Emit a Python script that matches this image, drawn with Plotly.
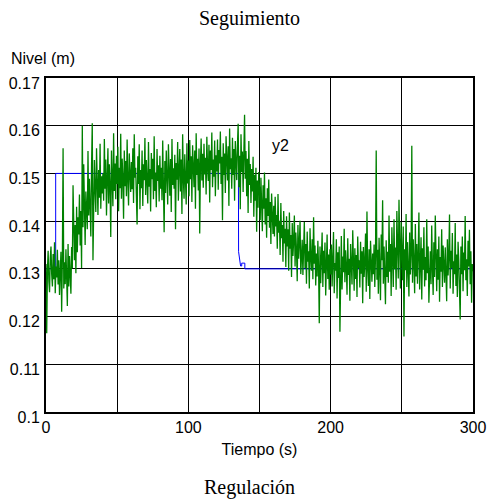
import numpy as np
import plotly.graph_objects as go

# ---------------- data ----------------
title_top = "Seguimiento"
title_bottom = "Regulación"
y_label = "Nivel (m)"
x_label = "Tiempo (s)"
trace_label = "y2"

x_tick_vals = [0, 50, 100, 150, 200, 250, 300]
x_tick_text = ["0", "", "100", "", "200", "", "300"]
y_tick_vals = [0.10, 0.11, 0.12, 0.13, 0.14, 0.15, 0.16, 0.17]
y_tick_text = ["0.1", "0.11", "0.12", "0.13", "0.14", "0.15", "0.16", "0.17"]

# blue reference / model response (s, m)
blue_t = [0, 6.8, 6.8, 135.2, 135.3, 135.9, 136.7, 137.5, 137.5, 139.7, 139.7, 300]
blue_y = [0.130, 0.130, 0.150, 0.150, 0.1336, 0.1318, 0.1306, 0.1306, 0.1312, 0.1312, 0.1300, 0.1300]

# green measured level, sampled every 0.5 s from 0 to 300 s, in units of 0.1 mm
green_dt = 0.5
green_level_01mm = [
    1310, 1165, 1296, 1338, 1274, 1251, 1322, 1347, 1289, 1263, 1331, 1278, 1356, 1249, 1305, 1282, 1340, 1267, 1318, 1245,
    1292, 1336, 1210, 1321, 1553, 1259, 1314, 1268, 1341, 1276, 1222, 1352, 1263, 1327, 1285, 1248, 1346, 1301, 1475, 1335,
    1318, 1392, 1291, 1430, 1335, 1408, 1372, 1456, 1349, 1421, 1302, 1600, 1387, 1519, 1398, 1350, 1462, 1417, 1383, 1547,
    1412, 1489, 1437, 1368, 1515, 1605, 1318, 1398, 1528, 1466, 1419, 1553, 1481, 1413, 1507, 1449, 1562, 1426, 1494, 1458,
    1501, 1443, 1572, 1468, 1529, 1412, 1486, 1553, 1437, 1519, 1475, 1367, 1548, 1492, 1431, 1584, 1463, 1521, 1446, 1537,
    1478, 1556, 1421, 1512, 1469, 1583, 1447, 1531, 1490, 1405, 1548, 1473, 1526, 1452, 1571, 1486, 1433, 1542, 1499, 1461,
    1524, 1467, 1553, 1438, 1582, 1491, 1512, 1449, 1393, 1536, 1478, 1561, 1425, 1507, 1469, 1548, 1432, 1519, 1486, 1574,
    1455, 1528, 1491, 1437, 1566, 1472, 1509, 1420, 1543, 1488, 1531, 1446, 1578, 1463, 1502, 1429, 1551, 1484, 1517, 1441,
    1537, 1468, 1512, 1444, 1569, 1493, 1377, 1526, 1459, 1548, 1482, 1435, 1561, 1497, 1453, 1530, 1419, 1572, 1476, 1511,
    1468, 1539, 1383, 1522, 1487, 1566, 1443, 1508, 1551, 1462, 1529, 1415, 1582, 1491, 1447, 1540, 1503, 1435, 1563, 1479,
    1527, 1452, 1570, 1488, 1536, 1440, 1559, 1503, 1471, 1548, 1426, 1584, 1497, 1531, 1464, 1552, 1374, 1519, 1573, 1485,
    1541, 1470, 1562, 1498, 1533, 1456, 1577, 1512, 1484, 1560, 1439, 1548, 1507, 1586, 1471, 1529, 1493, 1569, 1452, 1538,
    1504, 1571, 1466, 1549, 1521, 1588, 1478, 1535, 1402, 1563, 1497, 1542, 1459, 1578, 1516, 1485, 1557, 1432, 1594, 1509,
    1532, 1468, 1575, 1497, 1551, 1443, 1568, 1512, 1486, 1559, 1604, 1471, 1537, 1425, 1582, 1503, 1546, 1461, 1528, 1623,
    1489, 1547, 1452, 1531, 1417, 1568, 1476, 1520, 1438, 1509, 1462, 1535, 1409, 1497, 1443, 1512, 1378, 1485, 1428, 1503,
    1468, 1402, 1491, 1437, 1379, 1475, 1426, 1502, 1393, 1448, 1365, 1469, 1411, 1487, 1386, 1440, 1352, 1458, 1404, 1373,
    1432, 1368, 1451, 1389, 1413, 1342, 1457, 1376, 1401, 1329, 1438, 1364, 1392, 1315, 1421, 1353, 1384, 1304, 1410, 1347,
    1383, 1296, 1418, 1342, 1371, 1283, 1396, 1327, 1359, 1412, 1305, 1376, 1338, 1274, 1392, 1321, 1355, 1401, 1289, 1347,
    1361, 1287, 1343, 1398, 1302, 1352, 1269, 1378, 1315, 1337, 1259, 1385, 1323, 1296, 1362, 1278, 1408, 1311, 1349, 1265,
    1332, 1284, 1359, 1303, 1186, 1347, 1270, 1321, 1376, 1262, 1338, 1291, 1355, 1244, 1317, 1372, 1279, 1330, 1256, 1341,
    1288, 1351, 1263, 1324, 1377, 1249, 1312, 1296, 1362, 1238, 1335, 1281, 1347, 1168, 1309, 1369, 1257, 1326, 1293, 1384,
    1272, 1339, 1305, 1246, 1364, 1287, 1321, 1233, 1352, 1298, 1267, 1381, 1315, 1254, 1343, 1279, 1329, 1241, 1368, 1302,
    1318, 1261, 1357, 1290, 1337, 1228, 1346, 1283, 1315, 1374, 1252, 1420, 1299, 1264, 1341, 1237, 1359, 1306, 1273, 1332,
    1289, 1351, 1262, 1326, 1548, 1277, 1340, 1248, 1365, 1301, 1234, 1372, 1318, 1444, 1269, 1347, 1295, 1226, 1360, 1283,
    1336, 1271, 1412, 1294, 1352, 1243, 1387, 1318, 1262, 1404, 1299, 1345, 1256, 1421, 1310, 1280, 1445, 1327, 1259, 1398,
    1323, 1276, 1389, 1158, 1341, 1297, 1415, 1262, 1356, 1305, 1242, 1376, 1288, 1330, 1558, 1271, 1362, 1315, 1249, 1394,
    1284, 1352, 1269, 1331, 1418, 1257, 1310, 1366, 1236, 1343, 1298, 1387, 1263, 1325, 1276, 1404, 1291, 1347, 1229, 1318,
    1337, 1268, 1391, 1302, 1245, 1356, 1283, 1412, 1319, 1253, 1341, 1277, 1368, 1231, 1325, 1294, 1383, 1262, 1349, 1306,
    1271, 1345, 1298, 1232, 1362, 1286, 1327, 1414, 1259, 1338, 1302, 1375, 1248, 1316, 1289, 1396, 1264, 1330, 1241, 1357,
    1318, 1262, 1194, 1347, 1289, 1368, 1253, 1334, 1297, 1411, 1276, 1320, 1243, 1359, 1305, 1382, 1268, 1337, 1229, 1310,
    1295,
]

label_pos = (165.0, 0.1559)

# ---------------- figure ----------------
green_y = np.array(green_level_01mm) / 10000.0
green_t = np.arange(len(green_y)) * green_dt

SANS = "Liberation Sans, Arial, sans-serif"
SERIF = "Liberation Serif, Times New Roman, serif"

fig = go.Figure()
fig.add_trace(go.Scatter(x=blue_t, y=blue_y, mode="lines",
                         line=dict(color="#0000ff", width=1), showlegend=False, hoverinfo="skip"))
fig.add_trace(go.Scatter(x=green_t, y=green_y, mode="lines",
                         line=dict(color="#008000", width=1.3), showlegend=False, hoverinfo="skip"))

axis_common = dict(showgrid=True, gridcolor="#000000", gridwidth=1,
                   showline=True, linecolor="#000000", linewidth=2, mirror=True,
                   ticks="", zeroline=False, automargin=False,
                   tickfont=dict(family=SANS, size=16, color="#000000"))

fig.update_xaxes(range=[0, 300], tickmode="array", tickvals=x_tick_vals, ticktext=x_tick_text,
                 title=dict(text=x_label, font=dict(family=SANS, size=16, color="#000000"), standoff=9),
                 **axis_common)
fig.update_yaxes(range=[0.10, 0.17], tickmode="array", tickvals=y_tick_vals, ticktext=y_tick_text,
                 ticklabelshift=5, ticklabelstandoff=1,
                 **axis_common)

fig.add_annotation(text=y_label, xref="paper", yref="paper", x=0, y=1, xanchor="left", yanchor="bottom",
                   xshift=-37, yshift=9, showarrow=False, font=dict(family=SANS, size=16, color="#000000"))
fig.add_annotation(text=trace_label, xref="x", yref="y", x=label_pos[0], y=label_pos[1],
                   showarrow=False, font=dict(family=SANS, size=16, color="#000000"))
fig.add_annotation(text=title_top, xref="paper", yref="paper", x=(249 - 46) / 427, y=1,
                   xanchor="center", yanchor="bottom", yshift=46, showarrow=False,
                   font=dict(family=SERIF, size=20, color="#000000"))
fig.add_annotation(text=title_bottom, xref="paper", yref="paper", x=(249 - 46) / 427, y=0,
                   xanchor="center", yanchor="top", yshift=-62, showarrow=False,
                   font=dict(family=SERIF, size=20, color="#000000"))

fig.update_layout(width=488, height=500, autosize=False,
                  margin=dict(l=46, r=15, t=78, b=88, pad=0),
                  paper_bgcolor="white", plot_bgcolor="white",
                  showlegend=False)

fig.write_html("out.html", config={"displayModeBar": False},
               post_script="document.body.style.margin='0px';document.body.style.overflow='hidden';")
